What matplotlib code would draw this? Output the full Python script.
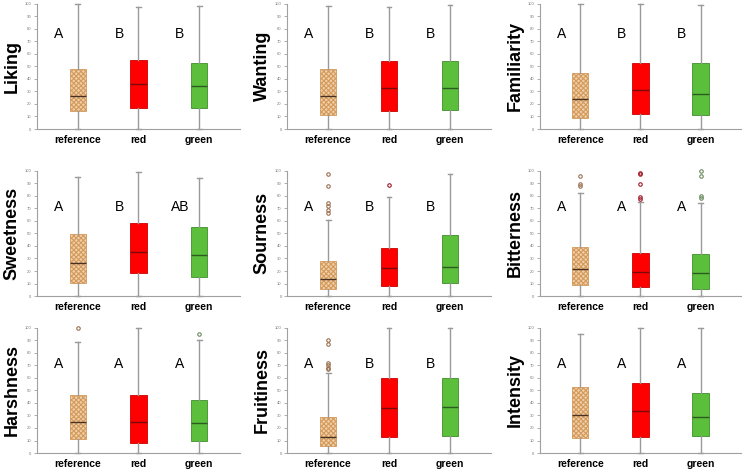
import matplotlib.pyplot as plt

plt.rcParams['font.family'] = ['Liberation Sans', 'DejaVu Sans']
plt.rcParams['hatch.linewidth'] = 0.8

attributes = ["Liking", "Wanting", "Familiarity",
              "Sweetness", "Sourness", "Bitterness",
              "Harshness", "Fruitiness", "Intensity"]
groups = ["reference", "red", "green"]

# one row per attribute, columns: reference / red / green
whisk_lo = [[0, 0, 0]] * 9
whisk_hi = [[99.5, 97, 98], [98, 97, 99], [99.5, 100, 99],
            [95, 99, 94], [60.7, 79, 97], [82, 75, 74],
            [88.5, 100, 90], [63.5, 100, 99.5], [95, 99.5, 99.5]]
q3 = [[48, 55, 53], [47.6, 54, 54.5], [44.4, 52.4, 53],
      [49.3, 58.6, 55], [27.6, 38.5, 49], [39.5, 34.5, 33.7],
      [45.9, 46.4, 42.4], [28.5, 60, 60], [52.3, 55.5, 47.7]]
q1 = [[14.4, 17, 16.5], [11.4, 14.4, 15], [8.5, 12, 11],
      [10.6, 18.3, 15], [6, 8, 10.6], [9, 7, 5.8],
      [11, 8.3, 10], [5.6, 12.8, 13.9], [12, 13, 13.6]]
medians = [[26, 36, 34], [26.3, 32.7, 32.7], [24, 31, 28],
           [26.5, 35.3, 33], [13.5, 22.5, 23.3], [21.2, 19.6, 18.6],
           [24.8, 24.8, 23.7], [12.8, 36, 36.5], [30.7, 33.3, 28.8]]
outliers = [[[], [], []], [[], [], []], [[], [], []],
            [[], [], []],
            [[97, 88, 74, 72, 69, 66.5], [88.6], []],
            [[96, 89, 88], [98.4, 97, 89.4, 79.3, 77.7], [100, 96, 80, 78]],
            [[100], [], [95]],
            [[90.4, 87, 72, 70, 68, 67], [], []],
            [[], [], []]]
letters = [["A", "B", "B"], ["A", "B", "B"], ["A", "B", "B"],
           ["A", "B", "AB"], ["A", "B", "B"], ["A", "A", "A"],
           ["A", "A", "A"], ["A", "B", "B"], ["A", "A", "A"]]

face = ['#f0cfa8', '#ff0000', '#5cbf3c']
edge = ['#d39a5c', '#cc0000', '#3f8f2a']
medc = ['#4a3020', '#7a0a0a', '#2d5a1f']
flierc = ['#9a7050', '#a01828', '#6a8a60']

lefts = [0.0496, 0.385, 0.724]
widths = [0.272, 0.273, 0.269]
bottoms = [0.7255, 0.370, 0.036]
letter_y = [76, 71, 71]

fig = plt.figure(figsize=(7.46, 4.70), dpi=100)

for i, name in enumerate(attributes):
    r, c = divmod(i, 3)
    ax = fig.add_axes([lefts[c], bottoms[r], widths[c], 0.267])
    stats = []
    for j in range(3):
        stats.append({"med": medians[i][j], "q1": q1[i][j], "q3": q3[i][j],
                      "whislo": whisk_lo[i][j], "whishi": whisk_hi[i][j],
                      "fliers": outliers[i][j]})
    art = ax.bxp(stats, positions=[1, 2, 3], widths=0.27, capwidths=0.08,
                 patch_artist=True, showfliers=True)
    for j in range(3):
        b = art["boxes"][j]
        b.set_facecolor(face[j])
        b.set_edgecolor(edge[j])
        b.set_linewidth(0.6)
        if j == 0:
            b.set_hatch('xxxxxxx')
        art["medians"][j].set(color=medc[j], linewidth=1.0)
        art["fliers"][j].set(marker='o', markersize=2.5, markerfacecolor='none',
                             markeredgecolor=flierc[j], markeredgewidth=0.8)
        ax.text(j + 1 - 0.32, letter_y[r], letters[i][j], ha='center',
                va='center', fontsize=10)
    for w in art["whiskers"] + art["caps"]:
        w.set(color='#9a9a9a', linewidth=1.0)
    for k in art.values():
        for a in k:
            a.set_clip_on(False)

    ax.set_xlim(0.33, 3.67)
    ax.set_ylim(0, 100)
    ax.set_yticks(range(0, 101, 10))
    ax.tick_params(axis='y', labelsize=3, labelcolor='#777777', color='#a0a0a0',
                   length=2, width=0.6, pad=2)
    ax.tick_params(axis='x', length=0, labelsize=7.5, pad=4)
    ax.set_xticks([1, 2, 3])
    ax.set_xticklabels(groups, fontweight='bold')
    ax.set_ylabel(name, fontsize=13, fontweight='bold', labelpad=3)
    for s in ['top', 'right']:
        ax.spines[s].set_visible(False)
    for s in ['left', 'bottom']:
        ax.spines[s].set_color('#a0a0a0')
        ax.spines[s].set_linewidth(0.8)

fig.savefig("out.png", dpi=100)
